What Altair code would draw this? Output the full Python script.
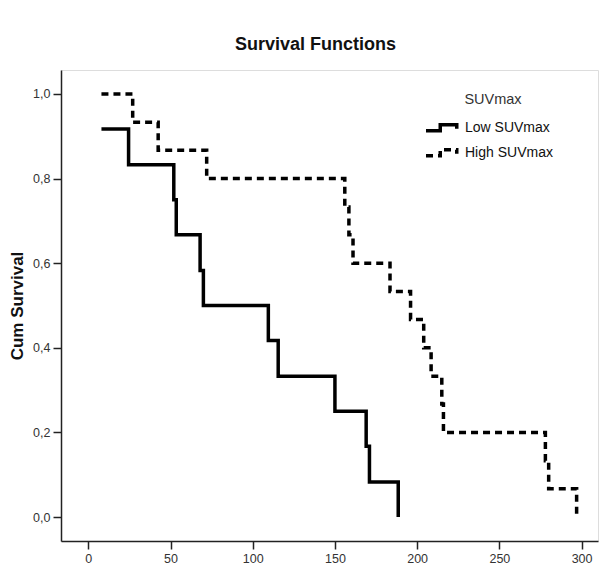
import altair as alt
import pandas as pd

groups = ["Low SUVmax", "High SUVmax"]

low_times = [8, 24.5, 52, 53.5, 68, 70, 109.5, 115.5, 150, 169, 171, 188.5]
low_surv = [0.917, 0.833, 0.75, 0.667, 0.583, 0.5, 0.417, 0.333, 0.25, 0.167, 0.083, 0.0]

high_times = [8, 27, 42.5, 72, 156, 158.5, 161, 183.5, 196, 204, 208.5, 215, 216, 278, 280, 297]
high_surv = [1.0, 0.933, 0.867, 0.8, 0.733, 0.667, 0.6, 0.533, 0.467, 0.4, 0.333, 0.267, 0.2, 0.133, 0.067, 0.0]

x_ticks = [0, 50, 100, 150, 200, 250, 300]
y_ticks = [0.0, 0.2, 0.4, 0.6, 0.8, 1.0]

rows = []
for g, ts, ss in ((groups[0], low_times, low_surv), (groups[1], high_times, high_surv)):
    for t, s in zip(ts, ss):
        rows.append({"group": g, "time": t, "surv": s})
df = pd.DataFrame(rows)

FONT = "Liberation Sans"
fmt = "replace(format(datum.value, '.1f'), '.', ',')"
glyph = "M-2.2,0.35L-0.3,0.35L-0.3,-0.45L1.9,-0.45L1.9,0.1"

chart = alt.Chart(df).mark_line(
    interpolate="step-after", strokeWidth=3.5, color="black", clip=True
).encode(
    x=alt.X("time:Q",
            scale=alt.Scale(domain=[-16.6, 310], nice=False, zero=False),
            axis=alt.Axis(values=x_ticks, title=None, grid=False, labelFont=FONT,
                          labelFontSize=12.5, labelColor="#333", tickSize=8, tickColor="#222",
                          tickWidth=1.5, labelPadding=3, domainColor="#222", domainWidth=1.5)),
    y=alt.Y("surv:Q",
            scale=alt.Scale(domain=[-0.0567, 1.0567], nice=False, zero=False),
            axis=alt.Axis(values=y_ticks, labelExpr=fmt, title="Cum Survival", grid=False,
                          labelFont=FONT, labelFontSize=12.5, labelColor="#333",
                          tickSize=8, tickColor="#222", tickWidth=1.5, labelPadding=3,
                          domainColor="#222", domainWidth=1.5,
                          titleFont=FONT, titleFontSize=17, titleFontWeight="bold",
                          titleColor="#111", titlePadding=6)),
    strokeDash=alt.StrokeDash(
        "group:N",
        scale=alt.Scale(domain=groups, range=[[1, 0], [7, 5]]),
        legend=alt.Legend(title="SUVmax", orient="none", legendX=372, legendY=23,
                          symbolType=glyph, symbolSize=225, symbolStrokeWidth=3.5,
                          symbolStrokeColor="black", symbolFillColor="transparent",
                          labelOffset=13, labelFont=FONT, labelFontSize=14,
                          labelColor="#111", titleFont=FONT, titleFontSize=14.5,
                          titleFontWeight="normal", titleColor="#333",
                          titleAnchor="middle", titlePadding=11, rowPadding=4)),
    order="time:Q",
).properties(
    width=537,
    height=471,
    autosize=alt.AutoSizeParams(type="none"),
    padding={"left": 61, "top": 70, "right": 2, "bottom": 31},
    title=alt.TitleParams("Survival Functions", font=FONT, fontSize=18, fontWeight="bold",
                          color="#111", offset=16, dx=-14, anchor="middle"),
).configure_view(stroke="#333", strokeWidth=1.5).configure(background="white")

chart.save("out.html", embed_options={"renderer": "svg", "actions": False})
